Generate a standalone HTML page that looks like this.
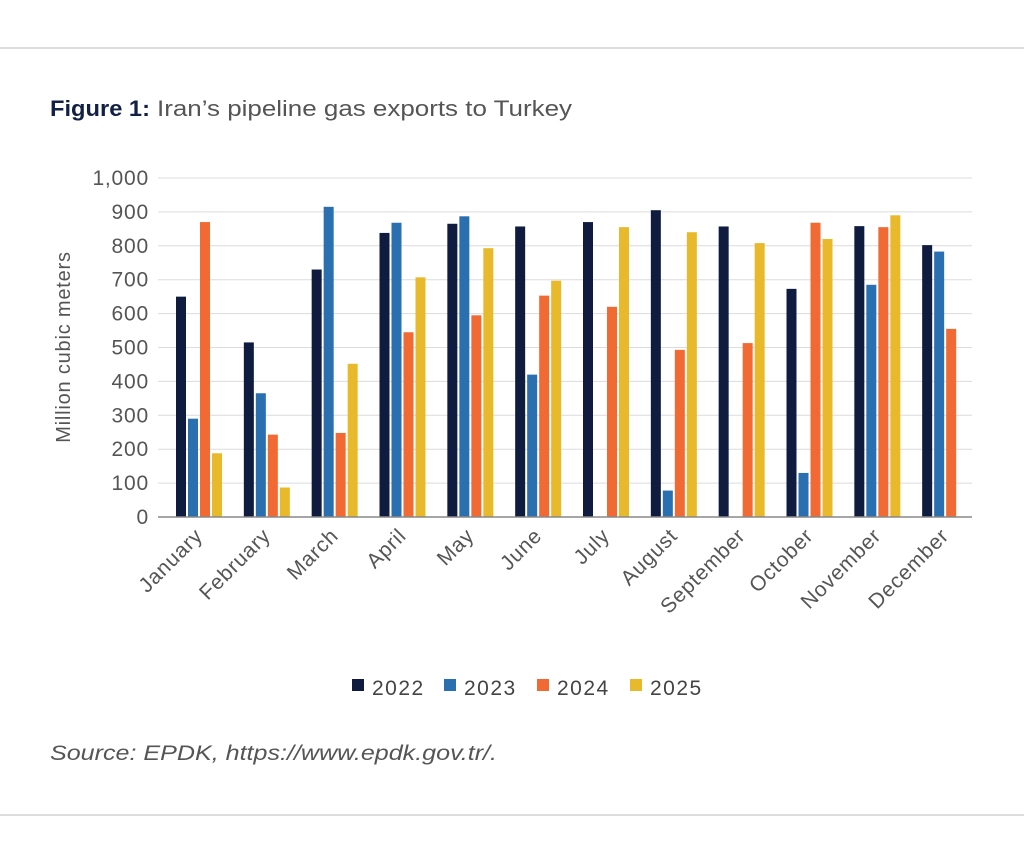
<!DOCTYPE html>
<html><head><meta charset="utf-8"><style>
body{margin:0;background:#fff;}
svg{display:block;font-family:"Liberation Sans",sans-serif;}
</style></head><body>
<svg width="1024" height="865" viewBox="0 0 1024 865" xmlns="http://www.w3.org/2000/svg">
<line x1="0" y1="48" x2="1024" y2="48" stroke="#d0d0d0" stroke-width="1.5"/>
<line x1="0" y1="815" x2="1024" y2="815" stroke="#d0d0d0" stroke-width="1.5"/>
<text x="50" y="116" font-size="22" font-weight="bold" fill="#132046" textLength="100" lengthAdjust="spacingAndGlyphs">Figure 1:</text>
<text x="157" y="116" font-size="22" fill="#555" textLength="415" lengthAdjust="spacingAndGlyphs">Iran’s pipeline gas exports to Turkey</text>
<g id="grid" stroke="#dcdcdc" stroke-width="1"></g>
<g id="bars"></g>
<line x1="158" y1="517" x2="972" y2="517" stroke="#888" stroke-width="1.5"/>
<g id="ylab" font-size="21" fill="#555" text-anchor="end" letter-spacing="0.8"></g>
<text transform="translate(70,347) rotate(-90)" font-size="20" fill="#555" text-anchor="middle" letter-spacing="0.8">Million cubic meters</text>
<g id="xlab" font-size="21" fill="#555" text-anchor="end" letter-spacing="0.8"></g>
<g font-size="21" fill="#444" letter-spacing="1.5">
<rect x="352" y="679" width="12" height="12" fill="#0f1c3f"/><text x="372" y="695">2022</text>
<rect x="444" y="679" width="12" height="12" fill="#2a6fb0"/><text x="464" y="695">2023</text>
<rect x="537" y="679" width="12" height="12" fill="#f26a33"/><text x="557" y="695">2024</text>
<rect x="630" y="679" width="12" height="12" fill="#e8b92a"/><text x="650" y="695">2025</text>
</g>
<text x="50" y="760" font-size="21" font-style="italic" fill="#555" textLength="447" lengthAdjust="spacingAndGlyphs">Source: EPDK, https://www.epdk.gov.tr/.</text>
</svg>
<script>
var ns="http://www.w3.org/2000/svg";
function el(t,a,p,txt){var e=document.createElementNS(ns,t);for(var k in a)e.setAttribute(k,a[k]);if(txt!==undefined)e.textContent=txt;document.getElementById(p).appendChild(e);}
var y0=517,s=0.339;
for(var v=100;v<=1000;v+=100){var y=y0-v*s;el("line",{x1:158,x2:972,y1:y,y2:y},"grid");}
for(var v=0;v<=1000;v+=100){var y=y0-v*s;el("text",{x:149,y:y+7},"ylab",v==1000?"1,000":String(v));}
var d=[[650,290,870,188],[515,365,243,87],[730,915,248,452],[838,868,545,707],[865,887,595,793],[857,420,653,697],[870,0,620,855],[905,78,493,840],[857,0,513,808],[673,130,868,820],[858,685,855,890],[802,783,555,0]];
var c=["#0f1c3f","#2a6fb0","#f26a33","#e8b92a"];
var m=["January","February","March","April","May","June","July","August","September","October","November","December"];
var gw=(972-158)/12;
for(var i=0;i<12;i++){var gx=158+i*gw;
for(var j=0;j<4;j++){var h=d[i][j]*s;if(h>0)el("rect",{x:gx+18+j*12,y:y0-h,width:10,height:h,fill:c[j]},"bars");}
var cx=gx+gw/2+12;el("text",{x:cx,y:537,transform:"rotate(-45 "+cx+" 537)"},"xlab",m[i]);}
</script>
</body></html>
